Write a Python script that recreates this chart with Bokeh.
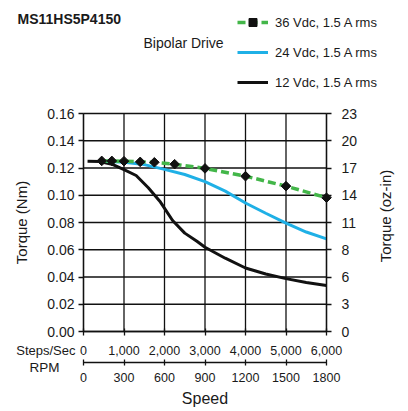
from bokeh.plotting import figure
from bokeh.models import (Range1d, LinearAxis, FixedTicker, NumeralTickFormatter,
                          Legend, LegendItem, Label)
from bokeh.embed import file_html
from bokeh.resources import INLINE

# ---------------- data ----------------
title_text = "MS11HS5P4150"
drive_text = "Bipolar Drive"

steps_ticks = [0, 1000, 2000, 3000, 4000, 5000, 6000]
rpm_ticks = [0, 300, 600, 900, 1200, 1500, 1800]
nm_ticks = [0.0, 0.02, 0.04, 0.06, 0.08, 0.10, 0.12, 0.14, 0.16]
NM_TO_OZIN = 141.6119

label_36 = "36 Vdc, 1.5 A rms"
steps_36 = [450, 700, 1000, 1400, 1750, 2250, 3000, 4000, 5000, 6000]
torque_36 = [0.1252, 0.1252, 0.1250, 0.1245, 0.1242, 0.1228, 0.1197, 0.1140, 0.1067, 0.0982]

label_24 = "24 Vdc, 1.5 A rms"
steps_24 = [550, 1000, 1500, 2000, 2500, 3000, 3500, 4000, 4500, 5000, 5500, 6000]
torque_24 = [0.1250, 0.1243, 0.1225, 0.1190, 0.1152, 0.1100, 0.1030, 0.0943, 0.0868, 0.0795, 0.0730, 0.0680]

label_12 = "12 Vdc, 1.5 A rms"
steps_12 = [100, 400, 700, 1000, 1300, 1600, 1900, 2200, 2500, 2800, 3000, 3500, 4000, 4500, 5000, 5500, 6000]
torque_12 = [0.1250, 0.1248, 0.1228, 0.1188, 0.1145, 0.1055, 0.0950, 0.0815, 0.0722, 0.0662, 0.0618, 0.0538, 0.0466, 0.0422, 0.0388, 0.0360, 0.0337]

# ---------------- layout (pixels) ----------------
W, H = 408, 411
PL, PR, PT, PB = 83, 326, 113, 331      # plot-area edges on the canvas
RPM_AXIS_Y = 362                        # second (RPM) axis line

FONT = "Liberation Sans"
TXT = "#1a1a1a"
GREEN = "#43b649"
BLUE = "#1fb0e6"
BLACK = "#111111"

xmax = steps_ticks[-1]
ymax = nm_ticks[-1]
xs = xmax / (PR - PL)                   # data units per pixel
ys = ymax / (PB - PT)
x_range = Range1d(-PL * xs, xmax + (W - PR) * xs)
y_range = Range1d(-(H - PB) * ys, ymax + PT * ys)
rpm_scale = rpm_ticks[-1] / xmax

p = figure(width=W, height=H, output_backend="svg", toolbar_location=None,
           x_range=x_range, y_range=y_range, min_border=0,
           x_axis_location=None, y_axis_location=None)
p.background_fill_color = "white"
p.border_fill_color = "white"
p.outline_line_color = None
p.xgrid.visible = False
p.ygrid.visible = False

p.extra_x_ranges = {"rpm": Range1d(x_range.start * rpm_scale, x_range.end * rpm_scale)}
p.extra_y_ranges = {"ozin": Range1d(y_range.start * NM_TO_OZIN, y_range.end * NM_TO_OZIN)}

def style_axis(ax, size, color=BLACK):
    ax.axis_line_color = color
    ax.axis_line_width = 1.3
    ax.major_tick_line_color = color
    ax.major_tick_line_width = 1.3
    ax.minor_tick_line_color = None
    ax.major_label_text_font = FONT
    ax.major_label_text_font_size = size
    ax.major_label_text_color = TXT
    ax.axis_label_text_font = FONT
    ax.axis_label_text_color = TXT
    ax.axis_label_text_font_style = "normal"

# grid (bounded to the plot area)
p.segment(x0=steps_ticks, y0=[0] * len(steps_ticks), x1=steps_ticks, y1=[ymax] * len(steps_ticks),
          line_color=BLACK, line_width=1.3, level="underlay")
p.segment(x0=[0] * len(nm_ticks), y0=nm_ticks, x1=[xmax] * len(nm_ticks), y1=nm_ticks,
          line_color=BLACK, line_width=1.3, level="underlay")

# left axis (Nm)
ly = LinearAxis(fixed_location=0, bounds=(0, ymax), ticker=FixedTicker(ticks=nm_ticks),
                formatter=NumeralTickFormatter(format="0.00"))
style_axis(ly, "14px")
ly.major_tick_in = 0
ly.major_tick_out = 5
ly.major_label_standoff = 4
ly.axis_label = "Torque (Nm)"
ly.axis_label_text_font_size = "15px"
ly.axis_label_standoff = 14
p.add_layout(ly, "left")

# right axis (oz-in)
ry = LinearAxis(y_range_name="ozin", fixed_location=xmax, bounds=(0, ymax * NM_TO_OZIN),
                ticker=FixedTicker(ticks=[t * NM_TO_OZIN for t in nm_ticks]),
                formatter=NumeralTickFormatter(format="0"))
style_axis(ry, "14px")
ry.major_tick_in = 0
ry.major_tick_out = 5
ry.major_label_standoff = 10
p.add_layout(ry, "right")

# bottom axis (steps/sec)
bx = LinearAxis(fixed_location=0, bounds=(0, xmax), ticker=FixedTicker(ticks=steps_ticks),
                formatter=NumeralTickFormatter(format="0,0"))
style_axis(bx, "12.5px")
bx.major_tick_in = 3
bx.major_tick_out = 4
bx.major_label_standoff = 10
p.add_layout(bx, "below")

# second bottom axis (RPM)
rx = LinearAxis(x_range_name="rpm", fixed_location=-(RPM_AXIS_Y - PB) * ys,
                bounds=(0, rpm_ticks[-1]), ticker=FixedTicker(ticks=rpm_ticks),
                formatter=NumeralTickFormatter(format="0"))
style_axis(rx, "12.5px")
rx.axis_line_width = 1.6
rx.major_tick_in = 3
rx.major_tick_out = 3
rx.major_label_standoff = 7
rx.axis_label = "Speed"
rx.axis_label_text_font_size = "16px"
rx.axis_label_standoff = 5
p.add_layout(rx, "below")

# ---------------- series ----------------
k_line = p.line(steps_12, torque_12, line_color=BLACK, line_width=3)
b_line = p.line(steps_24, torque_24, line_color=BLUE, line_width=3)
g_line = p.line(steps_36, torque_36, line_color=GREEN, line_width=3.5, line_dash="8 4")
g_pts = p.scatter(steps_36, torque_36, marker="square", angle=0.785398, size=6.8,
                  fill_color=BLACK, line_color=BLACK)

legend = Legend(items=[LegendItem(label=label_36, renderers=[g_line, g_pts]),
                       LegendItem(label=label_24, renderers=[b_line]),
                       LegendItem(label=label_12, renderers=[k_line])],
                location=(237, H - 92), orientation="vertical",
                glyph_width=31, glyph_height=20, label_height=20, spacing=10,
                padding=0, margin=0, label_standoff=7,
                border_line_color=None, background_fill_alpha=0,
                label_text_font=FONT, label_text_font_size="13px", label_text_color=TXT)
p.add_layout(legend)

# ---------------- texts ----------------
def add_label(text, cx, cy, size, align="left", bold=False, angle=0):
    p.add_layout(Label(x=cx, y=H - cy, x_units="screen", y_units="screen",
                       text=text, text_font=FONT, text_font_size=size, text_color=TXT,
                       text_align=align, text_baseline="middle",
                       text_font_style="bold" if bold else "normal",
                       angle=angle, angle_units="deg"))

add_label(title_text, 17, 18.5, "14px", bold=True)
add_label(drive_text, 143, 42.5, "14px")
add_label("Steps/Sec", 75, 350, "13px", align="right")
add_label("RPM", 44, 367, "13.5px", align="center")
add_label("Torque (oz-in)", 385, 215.5, "15px", align="center", angle=90)

open("out.html", "w").write(file_html(p, INLINE))
